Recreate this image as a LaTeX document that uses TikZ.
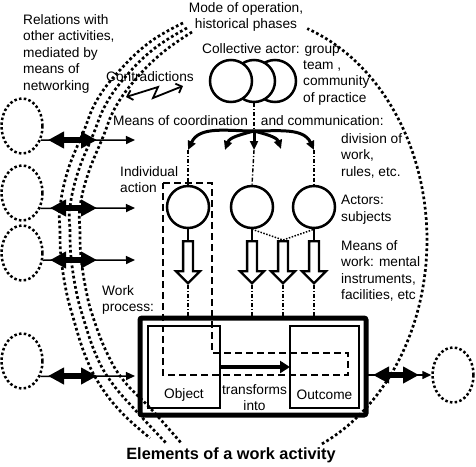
\documentclass[tikz,border=0pt]{standalone}
\usepackage{fontspec}
\setmainfont{Liberation Sans}
\usetikzlibrary{arrows.meta,shapes.geometric,shapes.arrows}
\begin{document}
\begin{tikzpicture}[x=1pt,y=-1pt,
  txt/.style={inner sep=0pt, font=\fontsize{13.7}{16.5}\selectfont, align=left},
  bigdots/.style={line width=2.7pt, line cap=butt, dash pattern=on 2.7pt off 2.5pt},
  smalldots/.style={line width=2.5pt, line cap=butt, dash pattern=on 2.5pt off 2.3pt},
  dashdot/.style={line width=1.4pt, dash pattern=on 4pt off 2pt on 1.2pt off 2pt},
  dotline/.style={line width=1.5pt, dash pattern=on 1.5pt off 1.5pt},
  dashbox/.style={line width=2.6pt, dash pattern=on 7pt off 4pt},
  circ/.style={circle, draw, line width=2.5pt, minimum size=42pt, inner sep=0pt, fill=white},
  blob/.style={ellipse, smalldots, draw, minimum width=41pt, minimum height=55pt, inner sep=0pt},
  harrow/.style={single arrow, draw, line width=2.3pt, shape border rotate=270,
     minimum height=42pt, single arrow head extend=7pt, single arrow tip angle=90,
     inner sep=3.75pt, fill=white, anchor=tail},
  fanarr/.style={line width=3pt, -{Triangle[length=9pt,width=8pt]}},
  thinarr/.style={line width=1.5pt, -{Triangle[length=9pt,width=8pt]}},
  dblarr/.style={line width=5.5pt, {Triangle[length=16pt,width=16pt]}-{Triangle[length=16pt,width=16pt]}},
  zz/.style={line width=1.8pt, line join=miter, {Straight Barb[length=5pt,width=10pt]}-{Straight Barb[length=5pt,width=10pt]}},
  boxn/.style={draw, inner sep=0pt, outer sep=0pt}
]
\useasboundingbox (0,0) rectangle (476,466);

% ---- big dotted boundary ----
\draw[bigdots] plot[domain=-65:70, samples=70] ({245+182*cos(\x)},{240-225*sin(\x)});
\draw[bigdots] plot[smooth, tension=0.7] coordinates {(183,23) (150,42) (120,70) (97,100) (83,133) (68,170) (60,207) (60,232) (61,257) (66,290) (73,317) (85,355) (100,385) (122,413) (150,438)};
\draw[bigdots] plot[smooth, tension=0.7] coordinates {(187,28) (155,48) (127,75) (106,104) (93,135) (78,172) (70,207) (70,232) (71,257) (76,290) (83,317) (96,355) (112,383) (137,412) (167,444)};
\draw[bigdots] plot[smooth, tension=0.7] coordinates {(192,32) (162,53) (135,80) (115,108) (103,137) (88,174) (80,207) (80,232) (81,257) (86,290) (93,317) (107,353) (124,381) (152,410) (182,444)};

% ---- texts ----
\node[txt, anchor=north west] (trel) at (23,14) {Relations with\\other activities,\\mediated by\\means of\\networking};
\node[txt, anchor=north, align=center] (tmode) at (246,2) {Mode of operation,\\historical phases};
\node[txt] (tcontr) at (150,77) {Contradictions};
\node[txt, anchor=west] (tcollA) at (202,50) {Collective actor: group};
\node[txt, anchor=north west] (tcollB) at (303,60) {team ,\\community\\of practice};
\node[txt, anchor=west] (tmeans) at (113,121) {Means of coordination\hspace{13pt}and communication:};
\node[txt, anchor=north west] (tdiv) at (341,133) {division of\\work,\\rules, etc.};
\node[txt, anchor=north west] (tact) at (341,195) {Actors:\\subjects};
\node[txt, anchor=north west] (tmw) at (341,240) {Means of\\work: mental\\instruments,\\facilities, etc};
\node[txt, anchor=north west] (tind) at (120,166) {Individual\\action};
\node[txt, anchor=north west] (twork) at (102,285) {Work\\process:};

% ---- contradictions zigzag ----
\coordinate (z1) at (126,97);
\coordinate (z2) at (158,87);
\coordinate (z3) at (153,98);
\coordinate (z4) at (183,86);
\draw[zz] (z1) -- (z2) -- (z3) -- (z4);

% ---- collective actor ----
\node[circ] (cc3) at (275,81) {};
\node[circ] (cc2) at (254,81) {};
\node[circ] (cc1) at (231,81) {};

% ---- fan ----
\coordinate (apex) at (254,131);
\coordinate (fL) at (188,150);
\coordinate (fML) at (225,150);
\coordinate (fM) at (254,150);
\coordinate (fMR) at (281,149);
\coordinate (fR) at (314,150);
\draw[dashdot] (cc2.south) -- (apex);
\draw[fanarr] (apex) to[out=180,in=65] (fL);
\draw[fanarr] (apex) to[out=195,in=70] (fML);
\draw[fanarr] (apex) -- (fM);
\draw[fanarr] (apex) to[out=-15,in=110] (fMR);
\draw[fanarr] (apex) to[out=0,in=115] (fR);

% ---- actors ----
\node[circ] (ac1) at (188,207) {};
\node[circ] (ac2) at (252,207) {};
\node[circ] (ac3) at (314,207) {};
\draw[dashdot] (fL) -- (ac1.north);
\draw[dashdot] (fM) -- (ac2.north);
\draw[dashdot] (fR) -- (ac3.north);

% ---- hollow arrows ----
\node[harrow] (ha1) at (188,240) {};
\node[harrow] (ha2) at (252,240) {};
\node[harrow] (ha3) at (283,240) {};
\node[harrow] (ha4) at (314,240) {};
\draw[line width=1.5pt] (ac1.south) -- (ha1.tail);
\draw[line width=1.5pt] (ac2.south) -- (ha2.tail);
\draw[line width=1.5pt] (ac3.south) -- (ha4.tail);
\draw[dotline] (ac2.south) -- (ha3.tail) -- (ac3.south);

% ---- work process box ----
\node[boxn, line width=5pt, rounded corners=2pt, minimum width=226pt, minimum height=97pt] (work) at (253,366.5) {};
\node[boxn, line width=2.5pt, minimum width=72pt, minimum height=82pt] (obj) at (184,367) {};
\node[boxn, line width=2.5pt, minimum width=69pt, minimum height=82pt] (outc) at (324.5,367) {};
\draw[dashdot] (ha1.tip) -- (ha1.tip |- work.north);
\draw[dashdot] (ha2.tip) -- (ha2.tip |- work.north);
\draw[dashdot] (ha3.tip) -- (ha3.tip |- work.north);
\draw[dashdot] (ha4.tip) -- (ha4.tip |- work.north);
\node[txt] (tobj) at (184,395) {Object};
\node[txt] (toutc) at (324.5,395) {Outcome};
\node[txt, anchor=north, align=center] (ttrans) at (254.5,384) {transforms\\into};
\draw[line width=4pt, -{Triangle[length=10pt,width=12pt]}] (obj.east |- 0,367) -- (outc.west |- 0,367);

% ---- individual action dashed frame ----
\draw[dashbox] (163,183) -- (212,183) -- (212,353) -- (348,353) -- (348,375) -- (163,375) -- cycle;

% ---- other activities ----
\node[blob] (e1) at (22,126) {};
\node[blob] (e2) at (22,193) {};
\node[blob] (e3) at (22,253) {};
\node[blob] (e4) at (22,361) {};
\node[blob] (er) at (453,375) {};

\coordinate (t1) at (135,140);
\coordinate (t2) at (135,208);
\coordinate (t3) at (135,260);
\coordinate (t4) at (135,376);
\draw[thinarr] (e1.-37.6) -- (t1);
\draw[thinarr] (e2.-40.3) -- (t2);
\draw[thinarr] (e3.-19) -- (t3);
\draw[thinarr] (e4.-40.3) -- (t4);
\draw[thinarr] (work.east |- er.west) -- (er.west);

\coordinate (d1a) at (48,140);  \coordinate (d1b) at (97,140);
\coordinate (d2a) at (50,208);  \coordinate (d2b) at (97,208);
\coordinate (d3a) at (50,260);  \coordinate (d3b) at (97,260);
\coordinate (d4a) at (48,376);  \coordinate (d4b) at (97,376);
\coordinate (d5a) at (373,375); \coordinate (d5b) at (419,375);
\draw[dblarr] (d1a) -- (d1b);
\draw[dblarr] (d2a) -- (d2b);
\draw[dblarr] (d3a) -- (d3b);
\draw[dblarr] (d4a) -- (d4b);
\draw[dblarr] (d5a) -- (d5b);

% ---- title ----
\node[inner sep=0pt, font=\bfseries\fontsize{16.3}{19}\selectfont] (title) at (231,455) {Elements of a work activity};
\end{tikzpicture}
\end{document}
